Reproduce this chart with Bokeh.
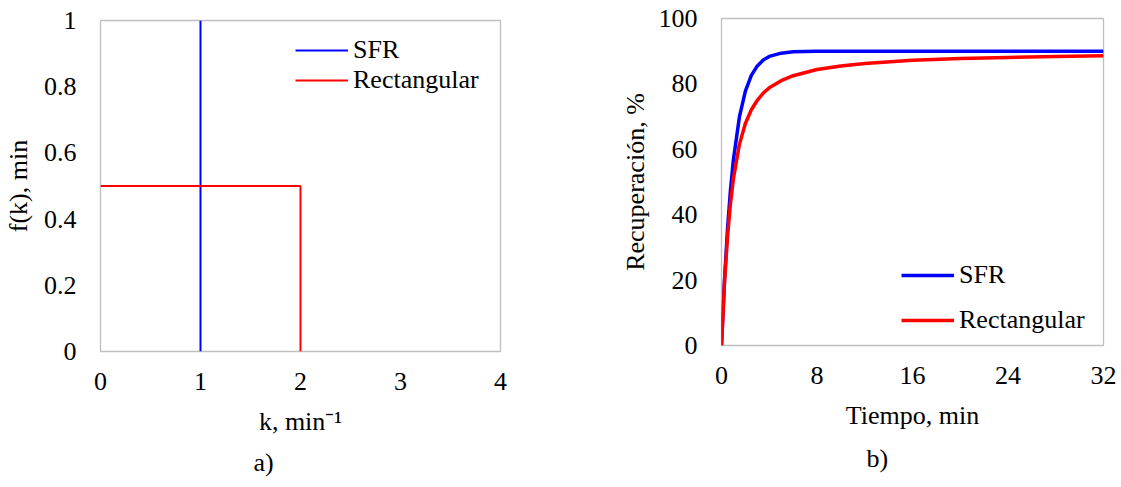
import math
from bokeh.plotting import figure
from bokeh.layouts import row
from bokeh.models import Range1d, FixedTicker, Legend, LegendItem, Title
from bokeh.embed import file_html
from bokeh.resources import INLINE

# ---------- data ----------
# panel a) distribution f(k)
sfr_k = [1, 1]
sfr_f = [0, 1]
rect_k = [0, 2, 2]
rect_f = [0.5, 0.5, 0]

# panel b) recovery curves (read from picture)
t_min = [0, 0.25, 0.5, 0.75, 1, 1.5, 2, 2.5, 3, 3.5, 4, 5, 6, 8, 10, 12, 16, 20, 24, 28, 32]
rec_sfr = [0, 19.9, 35.4, 47.5, 56.9, 69.9, 77.8, 82.6, 85.5, 87.3, 88.4, 89.4, 89.8, 90.0, 90.0, 90.0, 90.0, 90.0, 90.0, 90.0, 90.0]
rec_rect = [0, 19.2, 33.1, 43.4, 51.1, 61.5, 67.9, 72.1, 75.0, 77.2, 78.8, 81.0, 82.5, 84.4, 85.5, 86.25, 87.2, 87.75, 88.1, 88.4, 88.6]

a_xticks = [0, 1, 2, 3, 4]
a_xlabels = ["0", "1", "2", "3", "4"]
a_yticks = [0, 0.2, 0.4, 0.6, 0.8, 1]
a_ylabels = ["0", "0.2", "0.4", "0.6", "0.8", "1"]
b_xticks = [0, 8, 16, 24, 32]
b_xlabels = ["0", "8", "16", "24", "32"]
b_yticks = [0, 20, 40, 60, 80, 100]
b_ylabels = ["0", "20", "40", "60", "80", "100"]

FONT = "Liberation Serif"
FS = "26px"
BLUE = "#0000FF"
RED = "#FF0000"


def style(p, xt, xl, yt, yl):
    p.xgrid.visible = False
    p.ygrid.visible = False
    p.outline_line_color = "#BFBFBF"
    p.outline_line_width = 1.3
    p.xaxis.ticker = FixedTicker(ticks=xt)
    p.yaxis.ticker = FixedTicker(ticks=yt)
    p.xaxis.major_label_overrides = {t: l for t, l in zip(xt, xl)}
    p.yaxis.major_label_overrides = {t: l for t, l in zip(yt, yl)}
    for ax in (p.xaxis, p.yaxis):
        ax.axis_line_color = None
        ax.major_tick_line_color = None
        ax.minor_tick_line_color = None
        ax.major_tick_out = 0
        ax.major_tick_in = 0
        ax.major_label_text_font = FONT
        ax.major_label_text_font_size = FS
        ax.major_label_text_color = "#000000"
        ax.axis_label_text_font = FONT
        ax.axis_label_text_font_size = FS
        ax.axis_label_text_font_style = "normal"
        ax.axis_label_text_color = "#000000"
    p.xaxis.major_label_standoff = 21
    p.yaxis.major_label_standoff = 24
    p.xaxis.axis_label_standoff = 14


def legend(renderers, loc, spacing):
    return Legend(items=[LegendItem(label="SFR", renderers=[renderers[0]]),
                         LegendItem(label="Rectangular", renderers=[renderers[1]])],
                  location=loc, glyph_width=53, glyph_height=30, label_height=30,
                  label_standoff=5, spacing=spacing, padding=0, margin=0,
                  border_line_color=None, background_fill_alpha=0,
                  label_text_font=FONT, label_text_font_size=FS, label_text_color="#000000")


def panel_title(text, offset, standoff):
    return Title(text=text, align="left", offset=offset, standoff=standoff,
                 text_font=FONT, text_font_size=FS, text_font_style="normal",
                 text_color="#000000")


# ---------- panel a ----------
p1 = figure(width=560, height=487, output_backend="svg", toolbar_location=None,
            x_range=Range1d(0, 4), y_range=Range1d(0, 1),
            min_border_left=99, min_border_right=60, min_border_top=20, min_border_bottom=134)
style(p1, a_xticks, a_xlabels, a_yticks, a_ylabels)
p1.xaxis.axis_label = "k, min⁻¹"
p1.yaxis.axis_label = "f(k), min"
p1.yaxis.axis_label_standoff = 8
r1 = p1.line(sfr_k, sfr_f, line_color=BLUE, line_width=2)
r2 = p1.line(rect_k, rect_f, line_color=RED, line_width=2)
p1.add_layout(legend([r1, r2], (195, 256), 0), "center")
p1.add_layout(panel_title("a)", 153, 14), "below")

# ---------- panel b ----------
p2 = figure(width=561, height=483, output_backend="svg", toolbar_location=None,
            x_range=Range1d(0, 32), y_range=Range1d(0, 100),
            min_border_left=161, min_border_right=18, min_border_top=20, min_border_bottom=134)
p2.margin = (-2, 0, 0, 0)
style(p2, b_xticks, b_xlabels, b_yticks, b_ylabels)
p2.xaxis.axis_label = "Tiempo, min"
p2.yaxis.axis_label = "Recuperación, %"
p2.yaxis.axis_label_standoff = 6
s1 = p2.line(t_min, rec_sfr, line_color=BLUE, line_width=3.5)
s2 = p2.line(t_min, rec_rect, line_color=RED, line_width=3.5)
p2.add_layout(legend([s1, s2], (180, 10), 15), "center")
p2.add_layout(panel_title("b)", 145, 18), "below")

layout = row(p1, p2, spacing=0)
open("out.html", "w").write(file_html(layout, INLINE))
